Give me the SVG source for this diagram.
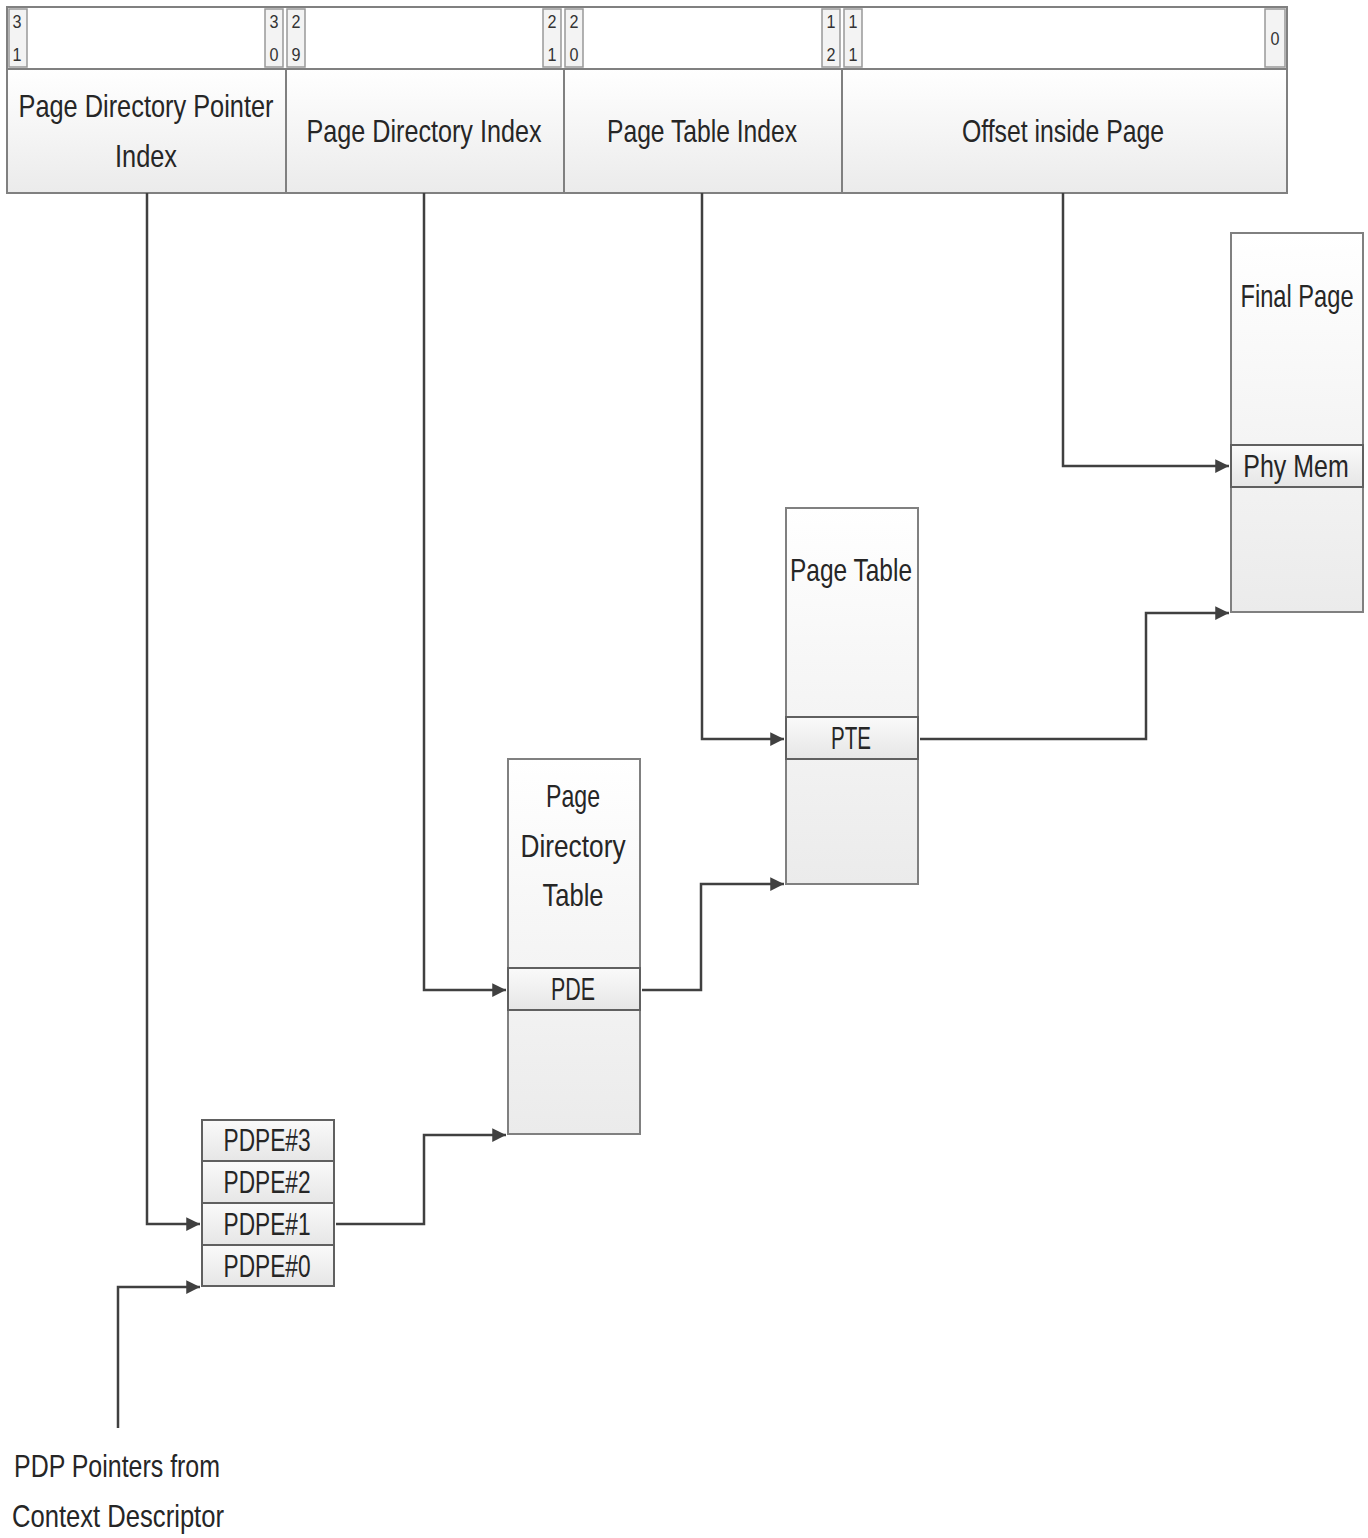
<svg xmlns="http://www.w3.org/2000/svg" width="1368" height="1538" viewBox="0 0 1368 1538">
<style>
.t{font-family:"Liberation Sans","Noto Sans",sans-serif;font-size:32px;fill:#262626;text-anchor:middle}
.s{font-family:"Liberation Sans","Noto Sans",sans-serif;font-size:19px;fill:#333;text-anchor:middle}
.box{fill:url(#g);stroke:#808080;stroke-width:2}
.row{fill:url(#g2);stroke:#606060;stroke-width:2}
.num{fill:#f3f3f3;stroke:#999;stroke-width:1.5}
.ln{fill:none;stroke:#404040;stroke-width:2.5}
</style>
<defs>
<linearGradient id="g" x1="0" y1="0" x2="0" y2="1"><stop offset="0" stop-color="#ffffff"/><stop offset="1" stop-color="#ebebeb"/></linearGradient>
<linearGradient id="g2" x1="0" y1="0" x2="0" y2="1"><stop offset="0" stop-color="#fafafa"/><stop offset="1" stop-color="#e6e6e6"/></linearGradient>
<marker id="a" viewBox="0 0 10 10" refX="10" refY="5" markerWidth="5.5" markerHeight="5.5" orient="auto" markerUnits="strokeWidth"><path d="M0,0L10,5L0,10z" fill="#404040"/></marker>
</defs>

<g id="address">
<rect x="7" y="7" width="1280" height="62" fill="#fff" stroke="#808080" stroke-width="2"/>
<rect class="num" x="9" y="9" width="18" height="58"/>
<rect class="num" x="265" y="9" width="18" height="58"/>
<rect class="num" x="287" y="9" width="18" height="58"/>
<rect class="num" x="543" y="9" width="18" height="58"/>
<rect class="num" x="565" y="9" width="18" height="58"/>
<rect class="num" x="822" y="9" width="18" height="58"/>
<rect class="num" x="844" y="9" width="18" height="58"/>
<rect class="num" x="1265" y="9" width="20" height="58"/>
<text class="s" x="17" y="28" textLength="9" lengthAdjust="spacingAndGlyphs">3</text><text class="s" x="17" y="61" textLength="9" lengthAdjust="spacingAndGlyphs">1</text>
<text class="s" x="274" y="28" textLength="9" lengthAdjust="spacingAndGlyphs">3</text><text class="s" x="274" y="61" textLength="9" lengthAdjust="spacingAndGlyphs">0</text>
<text class="s" x="296" y="28" textLength="9" lengthAdjust="spacingAndGlyphs">2</text><text class="s" x="296" y="61" textLength="9" lengthAdjust="spacingAndGlyphs">9</text>
<text class="s" x="552" y="28" textLength="9" lengthAdjust="spacingAndGlyphs">2</text><text class="s" x="552" y="61" textLength="9" lengthAdjust="spacingAndGlyphs">1</text>
<text class="s" x="574" y="28" textLength="9" lengthAdjust="spacingAndGlyphs">2</text><text class="s" x="574" y="61" textLength="9" lengthAdjust="spacingAndGlyphs">0</text>
<text class="s" x="831" y="28" textLength="9" lengthAdjust="spacingAndGlyphs">1</text><text class="s" x="831" y="61" textLength="9" lengthAdjust="spacingAndGlyphs">2</text>
<text class="s" x="853" y="28" textLength="9" lengthAdjust="spacingAndGlyphs">1</text><text class="s" x="853" y="61" textLength="9" lengthAdjust="spacingAndGlyphs">1</text>
<text class="s" x="1275" y="45" textLength="9" lengthAdjust="spacingAndGlyphs">0</text>
<rect class="box" x="7" y="69" width="1280" height="124"/>
<line x1="286" y1="69" x2="286" y2="193" stroke="#808080" stroke-width="2"/>
<line x1="564" y1="69" x2="564" y2="193" stroke="#808080" stroke-width="2"/>
<line x1="842" y1="69" x2="842" y2="193" stroke="#808080" stroke-width="2"/>
<text class="t" x="146" y="117" textLength="255" lengthAdjust="spacingAndGlyphs">Page Directory Pointer</text>
<text class="t" x="146" y="167" textLength="62" lengthAdjust="spacingAndGlyphs">Index</text>
<text class="t" x="424" y="142" textLength="235" lengthAdjust="spacingAndGlyphs">Page Directory Index</text>
<text class="t" x="702" y="142" textLength="190" lengthAdjust="spacingAndGlyphs">Page Table Index</text>
<text class="t" x="1063" y="142" textLength="202" lengthAdjust="spacingAndGlyphs">Offset inside Page</text>
</g>

<g id="final-page">
<rect class="box" x="1231" y="233" width="132" height="379"/>
<rect class="row" x="1231" y="445" width="132" height="42"/>
<text class="t" transform="translate(1297,307) scale(0.74,1)" x="0" y="0">Final Page</text>
<text class="t" transform="translate(1296,477) scale(0.78,1)" x="0" y="0">Phy Mem</text>
</g>

<g id="page-table">
<rect class="box" x="786" y="508" width="132" height="376"/>
<rect class="row" x="786" y="717" width="132" height="42"/>
<text class="t" x="851" y="581" textLength="122" lengthAdjust="spacingAndGlyphs">Page Table</text>
<text class="t" x="851" y="749" textLength="40" lengthAdjust="spacingAndGlyphs">PTE</text>
</g>

<g id="page-directory-table">
<rect class="box" x="508" y="759" width="132" height="375"/>
<rect class="row" x="508" y="968" width="132" height="42"/>
<text class="t" x="573" y="807" textLength="54" lengthAdjust="spacingAndGlyphs">Page</text>
<text class="t" x="573" y="857" textLength="105" lengthAdjust="spacingAndGlyphs">Directory</text>
<text class="t" x="573" y="906" textLength="61" lengthAdjust="spacingAndGlyphs">Table</text>
<text class="t" x="573" y="1000" textLength="44" lengthAdjust="spacingAndGlyphs">PDE</text>
</g>

<g id="pdpe">
<rect class="row" x="202" y="1120" width="132" height="41"/>
<rect class="row" x="202" y="1161" width="132" height="42"/>
<rect class="row" x="202" y="1203" width="132" height="42"/>
<rect class="row" x="202" y="1245" width="132" height="41"/>
<text class="t" x="267" y="1151" textLength="87" lengthAdjust="spacingAndGlyphs">PDPE#3</text>
<text class="t" x="267" y="1193" textLength="87" lengthAdjust="spacingAndGlyphs">PDPE#2</text>
<text class="t" x="267" y="1235" textLength="87" lengthAdjust="spacingAndGlyphs">PDPE#1</text>
<text class="t" x="267" y="1277" textLength="87" lengthAdjust="spacingAndGlyphs">PDPE#0</text>
</g>

<g id="context-descriptor">
<text class="t" x="117" y="1477" textLength="206" lengthAdjust="spacingAndGlyphs">PDP Pointers from</text>
<text class="t" x="118" y="1527" textLength="212" lengthAdjust="spacingAndGlyphs">Context Descriptor</text>
</g>

<g id="connectors">
<polyline class="ln" points="147,193 147,1224 200,1224" marker-end="url(#a)"/>
<polyline class="ln" points="424,193 424,990 506,990" marker-end="url(#a)"/>
<polyline class="ln" points="702,193 702,739 784,739" marker-end="url(#a)"/>
<polyline class="ln" points="1063,193 1063,466 1229,466" marker-end="url(#a)"/>
<polyline class="ln" points="118,1428 118,1287 200,1287" marker-end="url(#a)"/>
<polyline class="ln" points="336,1224 424,1224 424,1135 506,1135" marker-end="url(#a)"/>
<polyline class="ln" points="642,990 701,990 701,884 784,884" marker-end="url(#a)"/>
<polyline class="ln" points="920,739 1146,739 1146,613 1229,613" marker-end="url(#a)"/>
</g>
</svg>
